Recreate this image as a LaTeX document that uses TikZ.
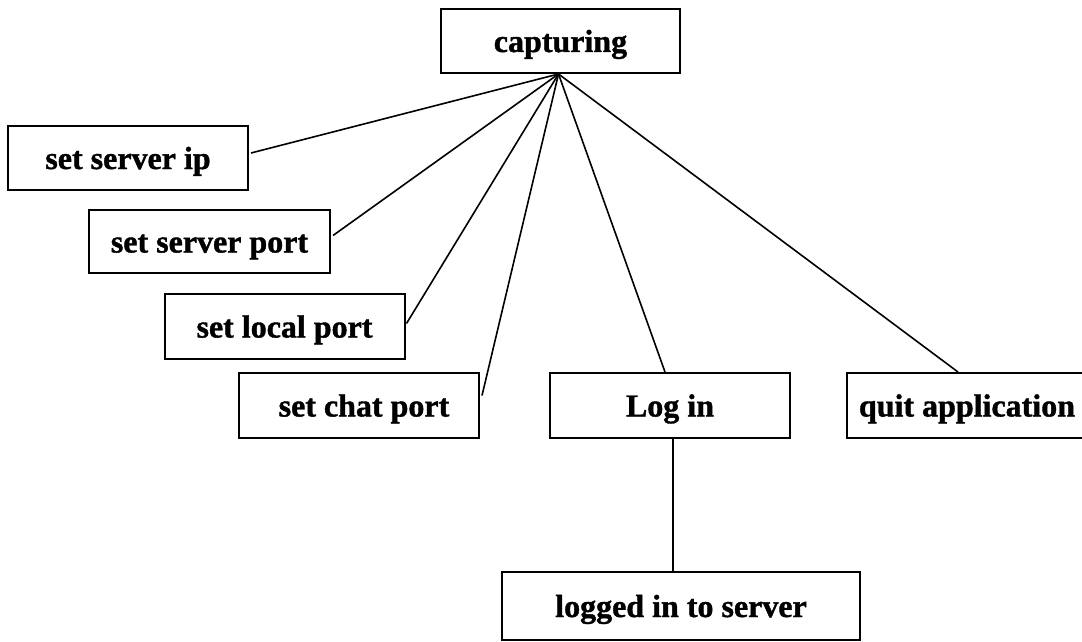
\documentclass[tikz,border=0pt]{standalone}
\usepackage{fontspec}
\setmainfont{Liberation Serif}[BoldFeatures={FakeBold=1.2}]
\begin{document}
\begin{tikzpicture}[x=1pt,y=-1pt,
  box/.style={draw=black,line width=2pt,minimum width=240pt,minimum height=64pt,inner sep=0pt,
    text height=22pt,text depth=0pt,
    font=\fontsize{32}{36}\selectfont\bfseries},
  conn/.style={draw=black,line width=1.6pt}]
\fill[white] (0,0) rectangle (1082,642);
\useasboundingbox (0,0) rectangle (1082,642);
\clip (0,0) rectangle (1082,642);
\node[box,minimum width=239pt] (cap) at (560.5,41) {capturing\hspace{26pt}};
\node[box] (ssip) at (128,158) {set server ip};
\node[box,minimum width=241pt,minimum height=63pt] (ssp) at (209.5,241.5) {set server port};
\node[box,minimum height=65pt] (slp) at (284.5,326.5) {set local port};
\node[box,minimum height=65pt] (scp) at (359,405.5) {\hspace{10pt}set chat port};
\node[box,minimum height=65pt] (login) at (670,405.5) {Log in};
\node[box,minimum height=65pt] (quit) at (967,405.5) {quit application};
\node[box,minimum width=358pt,minimum height=68pt] (logged) at (681,606) {logged in to server};
\coordinate (hub) at ([xshift=-2pt]cap.south);
\draw[conn] (hub) -- ([yshift=5pt,xshift=2pt]ssip.east);
\draw[conn] (hub) -- ([yshift=6pt,xshift=2pt]ssp.east);
\draw[conn] (hub) -- ([yshift=3pt,xshift=1pt]slp.east);
\draw[conn] (hub) -- ([yshift=10pt,xshift=2pt]scp.east);
\draw[conn] (hub) -- ([xshift=-5pt]login.north);
\draw[conn] (hub) -- ([xshift=-9pt]quit.north);
\draw[conn] ([xshift=3pt]login.south) -- ([xshift=3pt]login.south |- logged.north);
\end{tikzpicture}
\end{document}
